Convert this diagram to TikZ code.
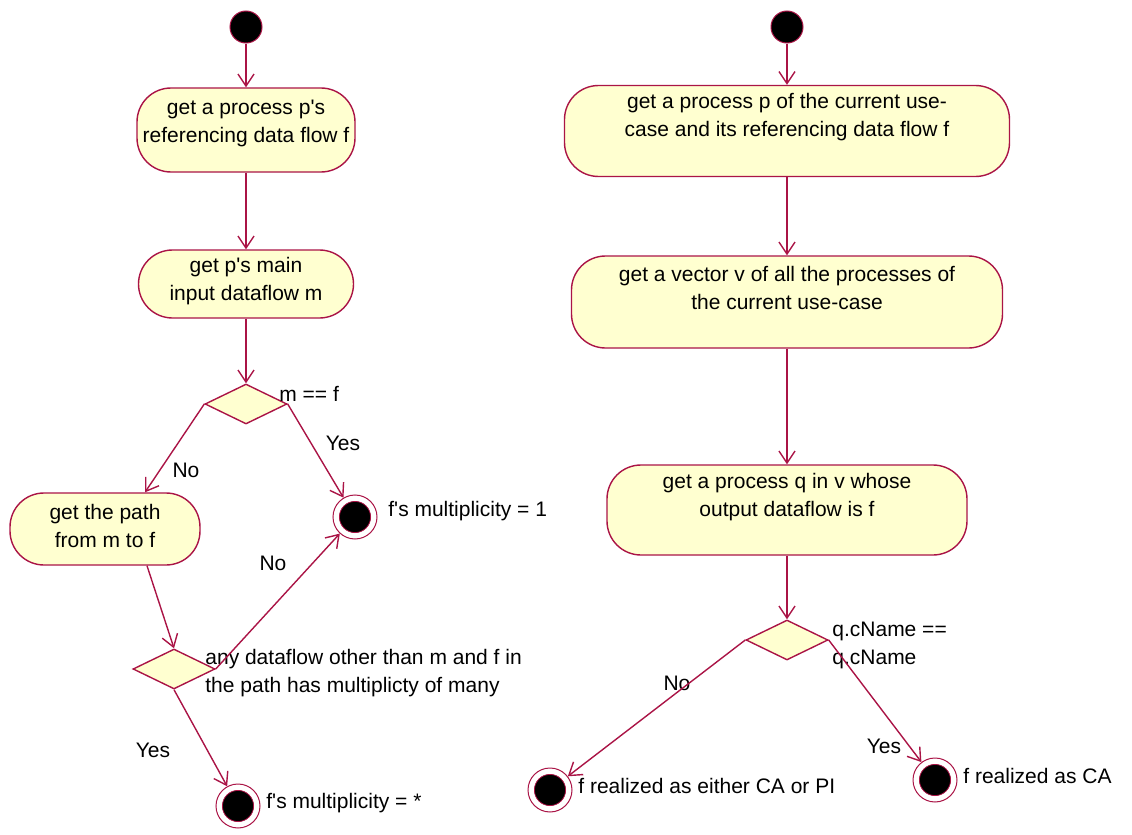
\documentclass[tikz,border=0pt]{standalone}
\usepackage{fontspec}
\setmainfont{Liberation Sans}
\usetikzlibrary{arrows.meta,shapes.geometric}
\definecolor{lred}{RGB}{170,20,70}
\definecolor{lyel}{RGB}{255,255,208}
\begin{document}
\begin{tikzpicture}[x=0.5pt,y=-0.5pt,
  every node/.style={font=\fontsize{10.5}{14}\selectfont},
  act/.style={draw=lred, fill=lyel, rounded corners=17pt, line width=0.7pt, inner sep=0pt},
  txt/.style={inner sep=0pt, align=center},
  lbl/.style={inner sep=0pt, anchor=west, align=left},
  start/.style={circle, draw=lred, fill=black, minimum size=16pt, inner sep=0pt, line width=0.5pt},
  final/.style={circle, draw=lred, line width=0.5pt, minimum size=22pt, inner sep=0pt,
    path picture={\draw[lred, fill=black, line width=0.4pt] (path picture bounding box.center) circle (7.8pt);}},
  dec/.style={diamond, draw=lred, fill=lyel, line width=0.7pt, minimum width=41pt, minimum height=20pt, inner sep=0pt},
  flow/.style={draw=lred, line width=0.7pt, -{Straight Barb[length=6pt,width=8pt]}},
]
\useasboundingbox (0,0) rectangle (1132,835);

% ---------- left column ----------
\node[start] (s1) at (246,27) {};
\node[act, minimum width=109pt, minimum height=42pt] (b1) at (246,130) {};
\node[txt] (t1) at (246,123.5) {get a process p\textquotesingle s\\referencing data flow f};
\node[act, minimum width=107.5pt, minimum height=34pt] (b2) at (246,284) {};
\node[txt] (t2) at (246,281.5) {get p\textquotesingle s main\\input dataflow m};
\node[dec] (d1) at (246,404) {};
\node[lbl] (l1) at (279,394) {m == f};
\node[final] (e1) at (355,517) {};
\node[lbl] (l2) at (388,511) {f\textquotesingle s multiplicity = 1};
\node[txt] (y1) at (343,443) {Yes};
\node[txt] (n1) at (186,470) {No};
\node[act, minimum width=95pt, minimum height=36pt] (b3) at (105,529) {};
\node[txt] (t3) at (105,526) {get the path\\from m to f};
\node[dec] (d2) at (174,669) {};
\node[lbl] (l3) at (205,673) {any dataflow other than m and f in\\the path has multiplicty of many};
\node[txt] (n2) at (273,563) {No};
\node[txt] (y2) at (153,750) {Yes};
\node[final] (e2) at (238,806) {};
\node[lbl] (l4) at (266,803) {f\textquotesingle s multiplicity = *};

\draw[flow] (s1) -- (b1);
\draw[flow] (b1) -- (b2);
\draw[flow] (b2) -- (d1);
\draw[flow] (d1.east) -- (e1);
\draw[flow] (d1.west) -- ([xshift=20pt]b3.north);
\draw[flow] ([xshift=21pt]b3.south) -- (d2.north);
\draw[flow] (d2.east) -- (e1);
\draw[flow] (d2.south) -- (e2);

% ---------- right column ----------
\node[start] (s2) at (787,27) {};
\node[act, minimum width=222.5pt, minimum height=45.5pt] (bp) at (787,131) {};
\node[txt] (tp) at (787,117.5) {get a process p of the current use-\\case and its referencing data flow f};
\node[act, minimum width=215.5pt, minimum height=46pt] (bv) at (787,302) {};
\node[txt] (tv) at (787,287.5) {get a vector v of all the processes of\\the current use-case};
\node[act, minimum width=180pt, minimum height=45pt] (bq) at (787,510) {};
\node[txt] (tq) at (787,497) {get a process q in v whose\\output dataflow is f};
\node[dec] (d3) at (787,640) {};
\node[lbl] (l5) at (832,645) {q.cName ==\\q.cName};
\node[txt] (n3) at (677,683) {No};
\node[txt] (y3) at (884,746) {Yes};
\node[final] (e3) at (550,790) {};
\node[lbl] (l6) at (578,786) {f realized as either CA or PI};
\node[final] (e4) at (935,780) {};
\node[lbl] (l7) at (963,776) {f realized as CA};

\draw[flow] (s2) -- (bp);
\draw[flow] (bp) -- (bv);
\draw[flow] (bv) -- (bq);
\draw[flow] (bq) -- (d3);
\draw[flow] (d3.west) -- (e3);
\draw[flow] (d3.east) -- (e4);
\end{tikzpicture}
\end{document}
